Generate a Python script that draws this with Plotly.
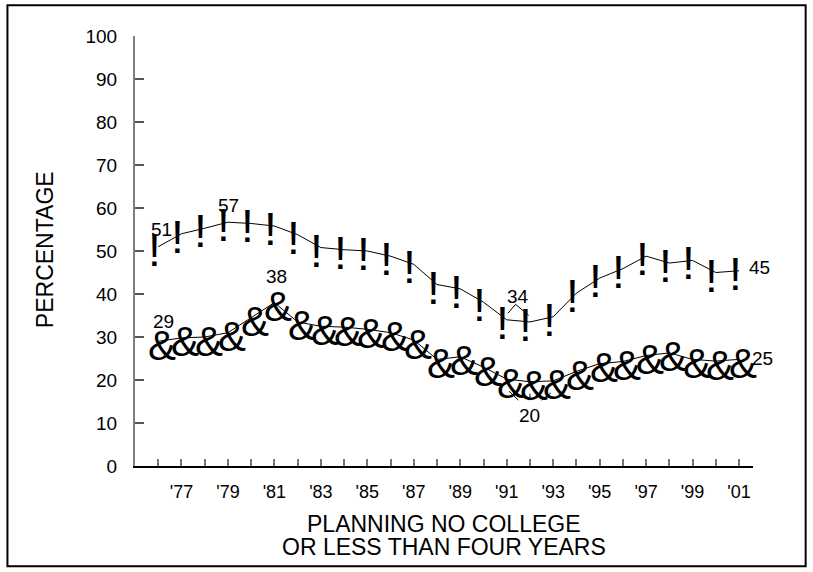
import plotly.graph_objects as go

years = list(range(1976, 2002))
no_college = [51, 54.0, 55.3, 56.7, 56.4, 55.8, 53.8, 50.8, 50.3, 50.0,
              48.8, 46.9, 42.2, 41.2, 38.1, 34.0, 33.5, 34.7, 40.2, 43.7,
              45.9, 48.8, 47.2, 47.8, 45.0, 45.4]
less_four = [29.0, 29.8, 30.0, 31.0, 34.5, 38.0, 33.5, 32.5, 32.3, 31.8,
             31.0, 29.3, 24.8, 25.4, 23.0, 20.2, 19.6, 19.8, 22.0, 23.8,
             24.3, 25.7, 26.3, 24.8, 24.4, 24.8]
tick_years = years
tick_text = ["'" + str(y)[2:] if y % 2 == 1 else "" for y in years]
y_ticks = list(range(0, 101, 10))

FONT = "Liberation Sans, Arial, sans-serif"

fig = go.Figure()
fig.add_trace(go.Scatter(x=years, y=no_college, mode="lines",
                         line=dict(color="black", width=1), showlegend=False))
fig.add_trace(go.Scatter(x=years, y=less_four, mode="lines",
                         line=dict(color="black", width=1), showlegend=False))

# glyph markers
for yr, v in zip(years, no_college):
    fig.add_annotation(x=yr, y=v, text="!", showarrow=False, xshift=-4, yshift=-3,
                       font=dict(size=46, color="black", family=FONT))
for yr, v in zip(years, less_four):
    fig.add_annotation(x=yr, y=v, text="&", showarrow=False, xshift=4, yshift=-4,
                       font=dict(size=42, color="black", family=FONT))

def idx(y):
    return years.index(y)

# point labels
labels = [
    (1976, no_college, 3, 17),
    (1979, no_college, 1, 17),
    (2001, no_college, 20, 3),
    (1976, less_four, 5, 20),
    (1981, less_four, 2, 26),
    (2001, less_four, 23, 1),
]
for yr, ser, dx, dy in labels:
    v = ser[idx(yr)]
    fig.add_annotation(x=yr, y=v, text=str(round(v)), showarrow=False,
                       xshift=dx, yshift=dy, font=dict(size=19, color="black", family=FONT))

# callout group: minimum of no_college (1991, 1992) label above
grp1 = [1991, 1992]
xc1 = sum(grp1) / len(grp1)
top1 = max(no_college[idx(y)] for y in grp1)
fig.add_annotation(x=xc1, y=top1 + 5.5, text=str(round(no_college[idx(1991)])), showarrow=False,
                   font=dict(size=19, color="black", family=FONT))
for y in grp1:
    v = no_college[idx(y)]
    fig.add_shape(type="line", x0=xc1 + (y - xc1) * 0.9, y0=v + 1.5,
                  x1=xc1 - 0.12, y1=top1 + 3.6, line=dict(color="black", width=1))

# callout group: minimum of less_four (1991-1993) label below
grp2 = [1991, 1992, 1993]
xc2 = sum(grp2) / len(grp2)
low2 = min(less_four[idx(y)] for y in grp2)
fig.add_annotation(x=xc2, y=low2 - 7.8, text=str(round(less_four[idx(1991)])), showarrow=False,
                   font=dict(size=19, color="black", family=FONT))
for y in grp2:
    v = less_four[idx(y)]
    fig.add_shape(type="line", x0=xc2 + (y - xc2) * 0.9, y0=v - 2.8,
                  x1=xc2 + (y - xc2) * 0.5, y1=low2 - 4.3, line=dict(color="black", width=1))

# axis titles
fig.add_annotation(xref="paper", yref="paper", x=0.5, y=-0.135, text="PLANNING NO COLLEGE",
                   showarrow=False, xanchor="center", yanchor="middle",
                   font=dict(size=23, color="black", family=FONT))
fig.add_annotation(xref="paper", yref="paper", x=0.5, y=-0.188, text="OR LESS THAN FOUR YEARS",
                   showarrow=False, xanchor="center", yanchor="middle",
                   font=dict(size=23, color="black", family=FONT))
fig.add_annotation(xref="paper", yref="paper", x=-0.1456, y=0.502, text="PERCENTAGE",
                   textangle=-90, showarrow=False, xanchor="center", yanchor="middle",
                   font=dict(size=23, color="black", family=FONT))

# outer border
fig.add_shape(type="rect", xref="paper", yref="paper", x0=-0.2064, x1=1.0852, y0=-0.2333, y1=1.0714,
              line=dict(color="black", width=2))

fig.update_layout(
    width=813, height=572,
    margin=dict(l=135, r=60, t=36, b=106),
    paper_bgcolor="white", plot_bgcolor="white",
    font=dict(family=FONT, color="black"),
    xaxis=dict(range=[1975, 2001.6], tickvals=tick_years, ticktext=tick_text,
               ticks="inside", ticklen=7, tickwidth=1.5, tickcolor="#777",
               showline=True, linecolor="black", linewidth=2, showgrid=False, zeroline=False,
               tickfont=dict(size=18, family=FONT, color="black"), ticklabelstandoff=8),
    yaxis=dict(range=[0, 100], tickvals=y_ticks,
               ticks="inside", ticklen=9, tickwidth=1.5, tickcolor="#555",
               showline=True, linecolor="#808080", linewidth=2, showgrid=False, zeroline=False,
               tickfont=dict(size=19, family=FONT, color="black"), ticklabelstandoff=12),
)

fig.write_html("out.html", config={"displayModeBar": False},
               post_script="document.body.style.margin='0';document.body.style.overflow='hidden';")
